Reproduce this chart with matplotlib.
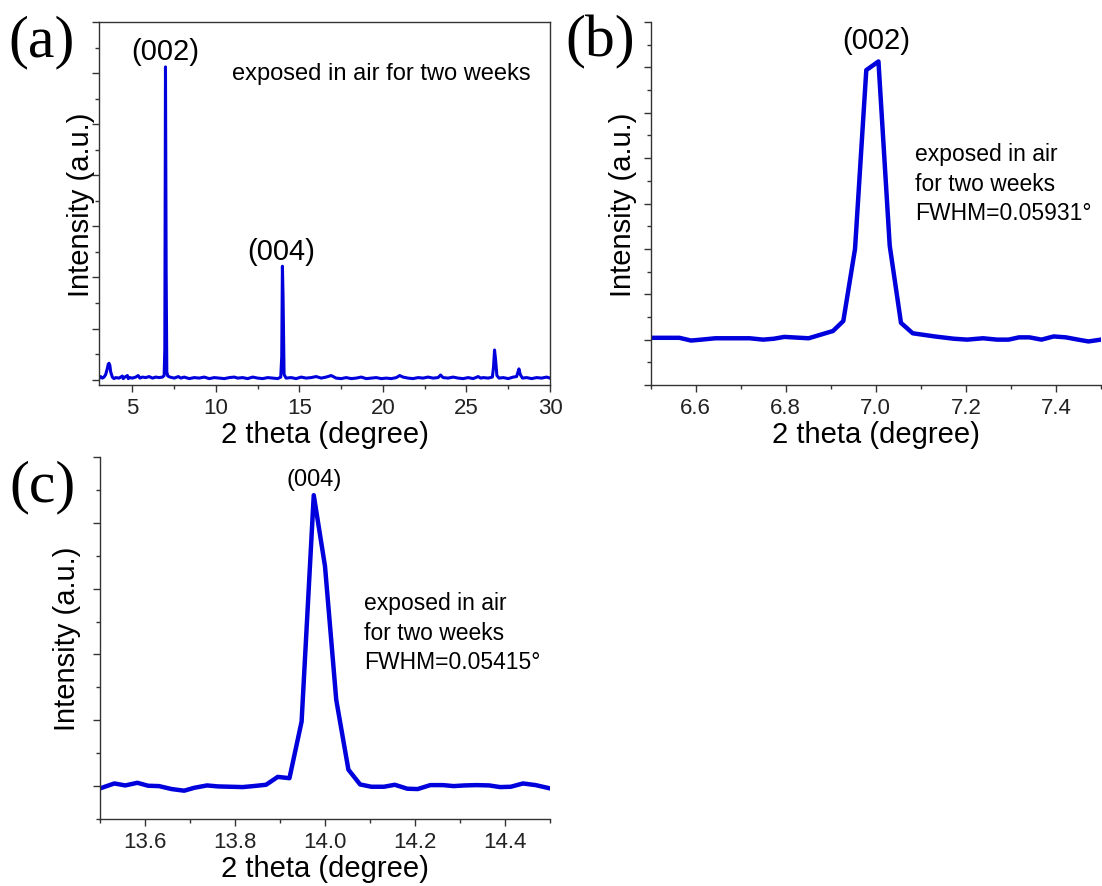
import numpy as np
import matplotlib
matplotlib.use("Agg")
import matplotlib.pyplot as plt
from matplotlib.ticker import MultipleLocator

plt.rcParams['font.family'] = ['Liberation Sans', 'DejaVu Sans']

# (a) full scan, 2 theta 3-30 deg, intensity in arbitrary units (1 = one major tick)
scan_x = [3.00, 3.10, 3.20, 3.30, 3.40, 3.50, 3.55, 3.60, 3.65, 3.70,
          3.80, 3.90, 4.00, 4.20, 4.40, 4.45, 4.55, 4.70, 4.75, 4.85,
          5.00, 5.20, 5.35, 5.45, 5.60, 5.80, 6.00, 6.20, 6.40, 6.60,
          6.80, 6.90, 6.94, 6.98, 7.02, 7.06, 7.12, 7.25, 7.50, 7.75,
          7.90, 8.10, 8.40, 8.70, 9.00, 9.30, 9.60, 9.90, 10.20, 10.50,
          10.80, 11.10, 11.30, 11.60, 11.90, 12.20, 12.50, 12.80, 13.10, 13.40,
          13.70, 13.88, 13.94, 13.98, 14.02, 14.08, 14.20, 14.50, 14.80, 15.10,
          15.40, 15.70, 16.00, 16.30, 16.60, 16.90, 17.20, 17.50, 17.80, 18.10,
          18.40, 18.70, 19.00, 19.30, 19.60, 19.90, 20.20, 20.50, 20.80, 21.00,
          21.20, 21.50, 21.80, 22.10, 22.40, 22.70, 23.00, 23.30, 23.45, 23.60,
          23.90, 24.20, 24.50, 24.80, 25.10, 25.40, 25.70, 25.85, 26.00, 26.30,
          26.55, 26.62, 26.68, 26.74, 26.82, 26.95, 27.20, 27.50, 27.80, 28.00,
          28.08, 28.14, 28.22, 28.35, 28.60, 28.90, 29.20, 29.50, 29.80, 30.00]
scan_y = [0.02, 0.06, 0.03, 0.05, 0.10, 0.22, 0.30, 0.32, 0.28, 0.15,
          0.05, 0.02, 0.04, 0.03, 0.07, 0.02, 0.05, 0.08, 0.02, 0.04,
          0.03, 0.05, 0.08, 0.03, 0.05, 0.04, 0.06, 0.03, 0.05, 0.04,
          0.05, 0.08, 0.60, 6.12, 2.10, 0.15, 0.07, 0.05, 0.03, 0.06,
          0.03, 0.05, 0.02, 0.04, 0.03, 0.05, 0.02, 0.04, 0.03, 0.02,
          0.04, 0.05, 0.03, 0.04, 0.02, 0.05, 0.03, 0.02, 0.04, 0.03,
          0.02, 0.05, 0.45, 2.22, 1.60, 0.10, 0.03, 0.04, 0.02, 0.05,
          0.03, 0.04, 0.06, 0.03, 0.05, 0.08, 0.03, 0.02, 0.04, 0.02,
          0.03, 0.05, 0.02, 0.03, 0.04, 0.02, 0.03, 0.02, 0.04, 0.08,
          0.05, 0.03, 0.02, 0.04, 0.03, 0.05, 0.03, 0.04, 0.09, 0.04,
          0.03, 0.05, 0.03, 0.02, 0.04, 0.02, 0.06, 0.03, 0.04, 0.03,
          0.05, 0.25, 0.58, 0.40, 0.08, 0.03, 0.04, 0.02, 0.05, 0.06,
          0.15, 0.21, 0.10, 0.03, 0.04, 0.02, 0.04, 0.03, 0.05, 0.03]

# (b) zoom on the (002) reflection
p002_x = [6.500, 6.564, 6.590, 6.613, 6.644, 6.720, 6.750, 6.774, 6.797, 6.851,
          6.905, 6.928, 6.954, 6.979, 7.006, 7.031, 7.056, 7.082, 7.131, 7.173,
          7.203, 7.238, 7.269, 7.295, 7.318, 7.341, 7.368, 7.395, 7.422, 7.449,
          7.472, 7.500]
p002_y = [0.04, 0.04, -0.02, 0.00, 0.03, 0.03, 0.00, 0.02, 0.06, 0.03,
          0.19, 0.41, 2.00, 5.94, 6.13, 2.07, 0.37, 0.14, 0.07, 0.02,
          0.00, 0.03, 0.00, 0.00, 0.05, 0.05, 0.00, 0.07, 0.05, 0.00,
          -0.04, 0.00]

# (c) zoom on the (004) reflection
p004_x = [13.500, 13.532, 13.556, 13.583, 13.607, 13.631, 13.659, 13.687, 13.710, 13.738,
          13.762, 13.790, 13.817, 13.841, 13.869, 13.895, 13.921, 13.948, 13.975, 14.000,
          14.025, 14.052, 14.078, 14.103, 14.131, 14.155, 14.183, 14.206, 14.234, 14.262,
          14.286, 14.310, 14.337, 14.365, 14.389, 14.413, 14.440, 14.468, 14.500]
p004_y = [-0.035, 0.04, 0.01, 0.05, 0.005, 0.00, -0.045, -0.07, -0.025, 0.01,
          -0.005, -0.01, -0.015, 0.00, 0.02, 0.14, 0.12, 0.98, 4.42, 3.34,
          1.31, 0.25, 0.025, -0.01, -0.01, 0.02, -0.04, -0.045, 0.015, 0.015,
          0.00, 0.01, 0.015, 0.01, -0.015, -0.01, 0.04, 0.015, -0.035]

blue = '#0000dc'
W, H = 1102, 887

fig = plt.figure(figsize=(W / 100, H / 100), dpi=100)


def make_axes(left, top, right, bottom):
    # pixel box -> figure fraction
    return fig.add_axes([left / W, 1 - bottom / H, (right - left) / W, (bottom - top) / H])


def style(ax, box=False):
    for s in ['left', 'bottom', 'top', 'right']:
        ax.spines[s].set_linewidth(1.0)
        ax.spines[s].set_color('#333333')
    if not box:
        ax.spines['top'].set_visible(False)
        ax.spines['right'].set_visible(False)
    ax.tick_params(which='both', direction='out', top=False, right=False,
                   width=1.0, color='#333333', labelsize=16, labelcolor='#222222', pad=4)
    ax.tick_params(which='major', length=5)
    ax.tick_params(which='minor', length=3)
    ax.tick_params(axis='y', labelleft=False)
    ax.set_ylabel('Intensity (a.u.)', fontsize=21)
    ax.set_xlabel('2 theta (degree)', fontsize=21, labelpad=1)


# ---- (a)
ax_a = make_axes(99, 23, 550, 386)
ax_a.plot(scan_x, scan_y, color=blue, lw=2.2)
ax_a.set_xlim(3, 30)
ax_a.set_ylim(-0.105, 7.0)
ax_a.xaxis.set_major_locator(MultipleLocator(5))
ax_a.xaxis.set_minor_locator(MultipleLocator(2.5))
ax_a.yaxis.set_major_locator(MultipleLocator(1))
ax_a.yaxis.set_minor_locator(MultipleLocator(0.5))
style(ax_a, box=True)
ax_a.yaxis.labelpad = -4
ax_a.text(6.95, 6.16, '(002)', fontsize=21, ha='center', va='bottom')
ax_a.text(13.9, 2.25, '(004)', fontsize=21, ha='center', va='bottom')
ax_a.text(19.9, 6.0, 'exposed in air for two weeks', fontsize=17, ha='center', va='center')

# ---- (b)
ax_b = make_axes(650.5, 23, 1101, 386)
ax_b.plot(p002_x, p002_y, color=blue, lw=3.2)
ax_b.set_xlim(6.5, 7.5)
ax_b.set_ylim(-1, 7)
ax_b.xaxis.set_major_locator(MultipleLocator(0.2))
ax_b.xaxis.set_minor_locator(MultipleLocator(0.1))
ax_b.yaxis.set_major_locator(MultipleLocator(1))
ax_b.yaxis.set_minor_locator(MultipleLocator(0.5))
style(ax_b)
ax_b.yaxis.labelpad = 2.5
ax_b.xaxis.set_major_formatter(plt.FormatStrFormatter('%.1f'))
ax_b.text(7.0, 6.3, '(002)', fontsize=21, ha='center', va='bottom')
ax_b.text(7.088, 3.45, 'exposed in air\nfor two weeks\nFWHM=0.05931°', fontsize=16.5,
          ha='left', va='center', linespacing=1.35)

# ---- (c)
ax_c = make_axes(100, 458, 550, 820)
ax_c.plot(p004_x, p004_y, color=blue, lw=3.2)
ax_c.set_xlim(13.5, 14.5)
ax_c.set_ylim(-0.5, 5.0)
ax_c.xaxis.set_major_locator(MultipleLocator(0.2))
ax_c.xaxis.set_minor_locator(MultipleLocator(0.1))
ax_c.yaxis.set_major_locator(MultipleLocator(1))
ax_c.yaxis.set_minor_locator(MultipleLocator(0.5))
style(ax_c)
ax_c.yaxis.labelpad = 7
ax_c.xaxis.set_major_formatter(plt.FormatStrFormatter('%.1f'))
ax_c.text(13.975, 4.5, '(004)', fontsize=17, ha='center', va='bottom')
ax_c.text(14.086, 2.34, 'exposed in air\nfor two weeks\nFWHM=0.05415°', fontsize=16.5,
          ha='left', va='center', linespacing=1.35)

# panel letters
for lbl, px, py in [('(a)', 42, 42), ('(b)', 600, 42), ('(c)', 43, 487)]:
    fig.text(px / W, 1 - py / H, lbl, fontsize=43, family='Liberation Serif',
             ha='center', va='center')

fig.savefig('out.png', dpi=100)
